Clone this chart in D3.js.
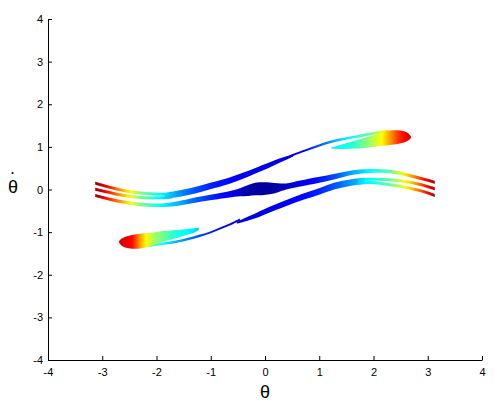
<!DOCTYPE html>
<html>
<head>
<meta charset="utf-8">
<script src="https://cdn.jsdelivr.net/npm/d3@7"></script>
<style>
  body { margin: 0; background: #fff; }
  svg { display: block; }
  .axis text { font-family: Arial, "Liberation Sans", sans-serif; font-size: 11px; fill: #000; }
  .axis path, .axis line { stroke: #000; }
  .label { font-family: Arial, "Liberation Sans", sans-serif; font-size: 18px; fill: #000; }
</style>
</head>
<body>
<svg id="chart" width="502" height="416"></svg>
<script>
// tick values for both axes
const tickValues = [-4, -3, -2, -1, 0, 1, 2, 3, 4];

// thin lines: theta, centre thetadot, half thickness, colour value (0..1 jet)
const leftLine1 = {
  theta: [-3.13, -2.95, -2.65, -2.29, -1.94, -1.71],
  mid: [0.145, 0.082, -0.012, -0.082, -0.113, -0.117],
  half: [0.035, 0.035, 0.035, 0.035, 0.035, 0.035],
  c: [0.97, 0.9, 0.72, 0.5, 0.38, 0.31],
};
const leftLine2 = {
  theta: [-3.13, -2.95, -2.65, -2.29, -1.94, -1.71],
  mid: [0.005, -0.047, -0.129, -0.188, -0.195, -0.176],
  half: [0.035, 0.035, 0.035, 0.035, 0.035, 0.035],
  c: [0.97, 0.89, 0.72, 0.49, 0.37, 0.3],
};
const rightLine2 = {
  theta: [1.71, 1.94, 2.3, 2.67, 2.95, 3.13],
  mid: [0.211, 0.239, 0.228, 0.169, 0.087, 0.016],
  half: [0.035, 0.035, 0.035, 0.035, 0.035, 0.035],
  c: [0.33, 0.38, 0.47, 0.66, 0.84, 0.96],
};
const rightLine3 = {
  theta: [1.71, 1.94, 2.3, 2.67, 2.95, 3.13],
  mid: [0.141, 0.162, 0.11, 0.03, -0.059, -0.141],
  half: [0.035, 0.035, 0.035, 0.035, 0.035, 0.035],
  c: [0.33, 0.38, 0.47, 0.66, 0.84, 0.96],
};

// wide bands
const upperBand = {
  theta: [-1.84, -1.57, -1.29, -1.01, -0.68, -0.37, -0.055, 0.18, 0.37, 0.52],
  mid: [-0.148, -0.094, -0.019, 0.082, 0.199, 0.34, 0.504, 0.633, 0.727, 0.798],
  half: [0.07, 0.075, 0.077, 0.075, 0.073, 0.07, 0.066, 0.056, 0.042, 0.023],
  c: [0.34, 0.27, 0.2, 0.16, 0.13, 0.11, 0.1, 0.1, 0.1, 0.1],
};
const lowerBand = {
  theta: [-0.52, -0.37, -0.18, 0.055, 0.37, 0.68, 1.01, 1.29, 1.57, 1.84],
  mid: [-0.78, -0.71, -0.62, -0.49, -0.33, -0.18, -0.04, 0.085, 0.16, 0.205],
  half: [0.023, 0.042, 0.056, 0.066, 0.07, 0.073, 0.075, 0.077, 0.075, 0.07],
  c: [0.09, 0.1, 0.1, 0.1, 0.11, 0.13, 0.16, 0.21, 0.27, 0.33],
};
const middleBand = {
  theta: [-3.13, -2.95, -2.65, -2.29, -1.94, -1.6, -1.29, -0.98, -0.68, -0.46, -0.31, -0.18, -0.055,
    0.09, 0.24, 0.39, 0.65, 0.98, 1.29, 1.57, 1.94, 2.3, 2.67, 2.95, 3.13],
  mid: [-0.141, -0.199, -0.286, -0.352, -0.371, -0.328, -0.251, -0.181, -0.12, -0.066, -0.023, 0.012, 0.02,
    0.026, 0.04, 0.07, 0.141, 0.223, 0.305, 0.387, 0.434, 0.422, 0.328, 0.235, 0.169],
  half: [0.035, 0.035, 0.038, 0.04, 0.042, 0.052, 0.061, 0.066, 0.072, 0.095, 0.128, 0.148, 0.152,
    0.14, 0.105, 0.072, 0.07, 0.07, 0.066, 0.054, 0.047, 0.042, 0.038, 0.035, 0.035],
  c: [0.97, 0.88, 0.72, 0.5, 0.38, 0.3, 0.22, 0.16, 0.12, 0.07, 0.04, 0.03, 0.03,
    0.03, 0.04, 0.07, 0.1, 0.14, 0.2, 0.28, 0.37, 0.46, 0.7, 0.87, 0.96],
};

// thin arms leading into the two tear-drop blobs
const topArm = {
  theta: [0.37, 0.52, 0.74, 0.98, 1.2, 1.42, 1.66, 1.9, 2.08, 2.27],
  mid: [0.732, 0.814, 0.915, 1.025, 1.114, 1.18, 1.236, 1.293, 1.333, 1.361],
  half: [0.023, 0.026, 0.026, 0.026, 0.028, 0.028, 0.028, 0.03, 0.033, 0.038],
  c: [0.09, 0.1, 0.13, 0.2, 0.27, 0.34, 0.4, 0.47, 0.55, 0.65],
};
const bottomArm = {
  theta: [-0.46, -0.65, -0.83, -1.01, -1.2, -1.42, -1.64, -1.86, -2.08, -2.25],
  mid: [-0.704, -0.821, -0.915, -1.009, -1.086, -1.161, -1.225, -1.267, -1.302, -1.326],
  half: [0.023, 0.026, 0.026, 0.026, 0.028, 0.028, 0.028, 0.03, 0.033, 0.038],
  c: [0.08, 0.1, 0.13, 0.16, 0.2, 0.25, 0.3, 0.37, 0.45, 0.55],
};

// blobs: theta, lower and upper thetadot edge, colour value
const topBlob = {
  theta: [1.22, 1.31, 1.48, 1.66, 1.84, 2.03, 2.16, 2.3, 2.45, 2.56, 2.64, 2.69],
  lo: [0.96, 0.952, 0.95, 0.96, 0.976, 1.004, 1.025, 1.044, 1.065, 1.1, 1.147, 1.208],
  hi: [0.983, 1.016, 1.077, 1.147, 1.213, 1.283, 1.344, 1.382, 1.389, 1.368, 1.321, 1.243],
  c: [0.35, 0.37, 0.39, 0.43, 0.49, 0.57, 0.63, 0.72, 0.82, 0.87, 0.9, 0.92],
};
const bottomBlob = {
  theta: [-1.22, -1.31, -1.48, -1.66, -1.84, -2.03, -2.16, -2.3, -2.45, -2.56, -2.64, -2.69],
  lo: [-0.95, -1.016, -1.077, -1.147, -1.213, -1.283, -1.344, -1.382, -1.389, -1.368, -1.321, -1.243],
  hi: [-0.9, -0.91, -0.93, -0.95, -0.97, -1.0, -1.02, -1.04, -1.065, -1.1, -1.147, -1.208],
  c: [0.33, 0.35, 0.38, 0.41, 0.47, 0.53, 0.6, 0.72, 0.87, 0.9, 0.91, 0.92],
};

function jet(v) {
  const clamp = (t) => Math.max(0, Math.min(1, t));
  const r = clamp(1.5 - Math.abs(4 * v - 3));
  const g = clamp(1.5 - Math.abs(4 * v - 2));
  const b = clamp(1.5 - Math.abs(4 * v - 1));
  return d3.rgb(r * 255, g * 255, b * 255).formatHex();
}

function toRows(s) {
  return s.theta.map((t, i) => ({
    t,
    lo: s.lo ? s.lo[i] : s.mid[i] - s.half[i],
    hi: s.hi ? s.hi[i] : s.mid[i] + s.half[i],
    c: s.c[i],
  }));
}

const svg = d3.select('#chart');
const width = 502;
const height = 416;

const x = d3.scaleLinear().domain([-4, 4]).range([48, 482]);
const y = d3.scaleLinear().domain([-4, 4]).range([360, 19]);

svg.append('rect').attr('width', width).attr('height', height).attr('fill', '#fff');

const defs = svg.append('defs');
const area = d3.area()
  .x((d) => x(d.t))
  .y0((d) => y(d.lo))
  .y1((d) => y(d.hi))
  .curve(d3.curveCatmullRom.alpha(0.5));

const strands = [topArm, bottomArm, topBlob, bottomBlob, upperBand, lowerBand,
  leftLine1, leftLine2, rightLine2, rightLine3, middleBand];

const plot = svg.append('g');
strands.forEach((s, k) => {
  const rows = toRows(s);
  const xs = rows.map((d) => x(d.t));
  const x0 = d3.min(xs);
  const x1 = d3.max(xs);
  const grad = defs.append('linearGradient')
    .attr('id', `grad${k}`)
    .attr('gradientUnits', 'userSpaceOnUse')
    .attr('x1', x0).attr('x2', x1).attr('y1', 0).attr('y2', 0);
  const sorted = rows.slice().sort((a, b) => a.t - b.t);
  // finer colour stops between the read-off points so the jet hues show up
  const stops = [];
  for (let i = 0; i < sorted.length; i++) {
    const a = sorted[i];
    const b = sorted[i + 1];
    if (!b) { stops.push([x(a.t), a.c]); break; }
    for (let j = 0; j < 4; j++) {
      const f = j / 4;
      stops.push([x(a.t) + (x(b.t) - x(a.t)) * f, a.c + (b.c - a.c) * f]);
    }
  }
  grad.selectAll('stop')
    .data(stops)
    .join('stop')
    .attr('offset', (d) => (d[0] - x0) / (x1 - x0))
    .attr('stop-color', (d) => jet(d[1]));

  plot.append('path')
    .datum(rows)
    .attr('d', area)
    .attr('fill', `url(#grad${k})`);
});

// axes, ticks pointing inwards like the original
const fmt = (d) => String(d);
svg.append('g')
  .attr('class', 'axis')
  .attr('transform', `translate(0,${y(-4)})`)
  .call(d3.axisBottom(x).tickValues(tickValues).tickFormat(fmt)
    .tickSizeInner(-4).tickSizeOuter(0).tickPadding(8));

svg.append('g')
  .attr('class', 'axis')
  .attr('transform', `translate(${x(-4)},0)`)
  .call(d3.axisLeft(y).tickValues(tickValues).tickFormat(fmt)
    .tickSizeInner(-4).tickSizeOuter(0).tickPadding(5));

svg.selectAll('.axis .domain').attr('stroke-width', 1);

svg.append('text')
  .attr('class', 'label')
  .attr('x', 265)
  .attr('y', 398)
  .attr('text-anchor', 'middle')
  .text('θ');

// y label: theta with a small dot above it (time derivative)
svg.append('text')
  .attr('class', 'label')
  .attr('x', 13)
  .attr('y', 193)
  .attr('text-anchor', 'middle')
  .text('θ');
svg.append('text')
  .attr('class', 'label')
  .attr('x', 12.5)
  .attr('y', 174.5)
  .attr('text-anchor', 'middle')
  .style('font-size', '7px')
  .text('•');
</script>
</body>
</html>
